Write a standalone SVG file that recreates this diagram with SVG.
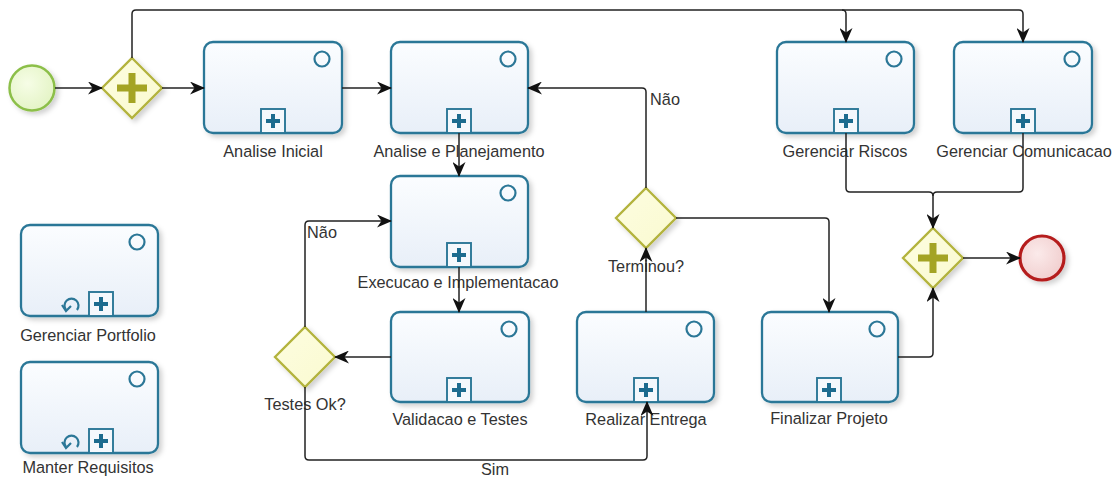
<svg xmlns="http://www.w3.org/2000/svg" width="1117" height="479" viewBox="0 0 1117 479">
<defs>
<linearGradient id="gTask" x1="0" y1="0" x2="0" y2="1"><stop offset="0" stop-color="#fbfdff"/><stop offset="1" stop-color="#e8eff8"/></linearGradient>
<linearGradient id="gGw" x1="0" y1="0" x2="1" y2="1"><stop offset="0" stop-color="#fdfde0"/><stop offset="1" stop-color="#fafad0"/></linearGradient>
<radialGradient id="gStart" cx="0.4" cy="0.4" r="0.7"><stop offset="0" stop-color="#f6fde6"/><stop offset="1" stop-color="#e2f3c2"/></radialGradient>
<radialGradient id="gEnd" cx="0.4" cy="0.4" r="0.7"><stop offset="0" stop-color="#fbeaea"/><stop offset="1" stop-color="#f0cccc"/></radialGradient>
<filter id="sh" x="-20%" y="-20%" width="150%" height="150%"><feDropShadow dx="3" dy="3" stdDeviation="2.5" flood-color="#000" flood-opacity="0.18"/></filter>
<marker id="arr" viewBox="0 0 15 13" refX="14" refY="6.5" markerWidth="15" markerHeight="13" markerUnits="userSpaceOnUse" orient="auto"><path d="M0,0 L15,6.5 L0,13 L4.5,6.5 Z" fill="#111"/></marker>
</defs>
<style>
.task{fill:url(#gTask);stroke:#2b7797;stroke-width:2.3;filter:url(#sh)}
.ev{fill:none;stroke:#2b7797;stroke-width:2.2}
.mk{fill:#f4f8fc;stroke:#2b7797;stroke-width:1.9}
.pl{stroke:#1c6b8e;stroke-width:4;fill:none}
.lp{fill:none;stroke:#2b7797;stroke-width:2.2}
.gw{fill:url(#gGw);stroke:#b3b33c;stroke-width:2.3;filter:url(#sh)}
.gp{stroke:#a4a424;stroke-width:7;fill:none}
.lbl{font-family:"Liberation Sans",Arial,sans-serif;font-size:16.3px;fill:#333;text-anchor:middle}
.cn{fill:none;stroke:#222;stroke-width:1.5;stroke-linejoin:round}
</style>

<g id="start">
<circle cx="32" cy="88" r="22.5" fill="url(#gStart)" stroke="#8cbf48" stroke-width="2.5" filter="url(#sh)"/>
</g>

<g id="gw1">
<path class="gw" d="M132,58 L162,88 L132,118 L102,88 Z"/>
<path class="gp" d="M117,88 H147 M132,73 V103"/>
</g>

<g id="analise-inicial">
<rect class="task" x="204" y="42" width="138" height="91" rx="9"/>
<circle class="ev" cx="322" cy="59" r="7.5"/>
<rect class="mk" x="261" y="109" width="24" height="24"/>
<path class="pl" d="M266,121 H280 M273,114 V128"/>
<text class="lbl" x="273" y="157">Analise Inicial</text>
</g>

<g id="analise-planejamento">
<rect class="task" x="391" y="42" width="137" height="91" rx="9"/>
<circle class="ev" cx="508" cy="59" r="7.5"/>
<rect class="mk" x="447" y="109" width="24" height="24"/>
<path class="pl" d="M452,121 H466 M459,114 V128"/>
<text class="lbl" x="459" y="157">Analise e Planejamento</text>
</g>

<g id="execucao">
<rect class="task" x="391" y="176" width="137" height="91" rx="9"/>
<circle class="ev" cx="508" cy="193" r="7.5"/>
<rect class="mk" x="447" y="243" width="24" height="24"/>
<path class="pl" d="M452,255 H466 M459,248 V262"/>
<text class="lbl" x="458" y="288">Execucao e Implementacao</text>
</g>

<g id="validacao">
<rect class="task" x="391" y="312" width="138" height="90" rx="9"/>
<circle class="ev" cx="509" cy="329" r="7.5"/>
<rect class="mk" x="447" y="378" width="24" height="24"/>
<path class="pl" d="M452,390 H466 M459,383 V397"/>
<text class="lbl" x="460" y="425">Validacao e Testes</text>
</g>

<g id="realizar-entrega">
<rect class="task" x="577" y="312" width="137" height="90" rx="9"/>
<circle class="ev" cx="694" cy="329" r="7.5"/>
<rect class="mk" x="634" y="378" width="24" height="24"/>
<path class="pl" d="M639,390 H653 M646,383 V397"/>
<text class="lbl" x="646" y="425">Realizar Entrega</text>
</g>

<g id="finalizar-projeto">
<rect class="task" x="762" y="312" width="136" height="90" rx="9"/>
<circle class="ev" cx="877" cy="329" r="7.5"/>
<rect class="mk" x="817" y="378" width="24" height="24"/>
<path class="pl" d="M822,390 H836 M829,383 V397"/>
<text class="lbl" x="829" y="424">Finalizar Projeto</text>
</g>

<g id="gerenciar-riscos">
<rect class="task" x="777" y="42" width="137" height="91" rx="9"/>
<circle class="ev" cx="894" cy="59" r="7.5"/>
<rect class="mk" x="834" y="109" width="24" height="24"/>
<path class="pl" d="M839,121 H853 M846,114 V128"/>
<text class="lbl" x="845" y="157">Gerenciar Riscos</text>
</g>

<g id="gerenciar-comunicacao">
<rect class="task" x="954" y="42" width="138" height="91" rx="9"/>
<circle class="ev" cx="1072" cy="59" r="7.5"/>
<rect class="mk" x="1011" y="109" width="24" height="24"/>
<path class="pl" d="M1016,121 H1030 M1023,114 V128"/>
<text class="lbl" x="1024" y="157">Gerenciar Comunicacao</text>
</g>

<g id="gerenciar-portfolio">
<rect class="task" x="21" y="225" width="137" height="91" rx="9"/>
<circle class="ev" cx="137" cy="242" r="7.5"/>
<rect class="mk" x="89" y="292" width="24" height="24"/>
<path class="pl" d="M94,304 H108 M101,297 V311"/>
<path class="lp" d="M66,310 A7,7 0 1 1 77,310"/>
<path class="lp" d="M62,305 L66,311 L71,306"/>
<text class="lbl" x="88" y="341">Gerenciar Portfolio</text>
</g>

<g id="manter-requisitos">
<rect class="task" x="21" y="362" width="137" height="91" rx="9"/>
<circle class="ev" cx="137" cy="379" r="7.5"/>
<rect class="mk" x="89" y="429" width="24" height="24"/>
<path class="pl" d="M94,441 H108 M101,434 V448"/>
<path class="lp" d="M66,447 A7,7 0 1 1 77,447"/>
<path class="lp" d="M62,442 L66,448 L71,443"/>
<text class="lbl" x="88" y="473">Manter Requisitos</text>
</g>

<g id="gw-testes">
<path class="gw" d="M305,327 L335,357 L305,387 L275,357 Z"/>
<text class="lbl" x="305" y="410">Testes Ok?</text>
</g>

<g id="gw-terminou">
<path class="gw" d="M646,188 L676,218 L646,248 L616,218 Z"/>
<text class="lbl" x="646" y="272">Terminou?</text>
</g>

<g id="gw2">
<path class="gw" d="M933,228 L963,258 L933,288 L903,258 Z"/>
<path class="gp" d="M918,258 H948 M933,243 V273"/>
</g>

<g id="end">
<circle cx="1042" cy="258" r="22" fill="url(#gEnd)" stroke="#b51d1d" stroke-width="3.2" filter="url(#sh)"/>
</g>

<g id="connectors">
<path class="cn" d="M55,88 H102" marker-end="url(#arr)"/>
<path class="cn" d="M162,88 H204" marker-end="url(#arr)"/>
<path class="cn" d="M132,58 V14 Q132,10 136,10 H842 Q846,10 846,14 V42" marker-end="url(#arr)"/>
<path class="cn" d="M842,10 H1019 Q1023,10 1023,14 V42" marker-end="url(#arr)"/>
<path class="cn" d="M342,88 H391" marker-end="url(#arr)"/>
<path class="cn" d="M459,133 V176" marker-end="url(#arr)"/>
<path class="cn" d="M459,267 V312" marker-end="url(#arr)"/>
<path class="cn" d="M391,357 H335" marker-end="url(#arr)"/>
<path class="cn" d="M305,327 V225 Q305,221 309,221 H391" marker-end="url(#arr)"/>
<path class="cn" d="M305,387 V456 Q305,460 309,460 H643 Q647,460 647,456 V402" marker-end="url(#arr)"/>
<path class="cn" d="M646,312 V248" marker-end="url(#arr)"/>
<path class="cn" d="M646,188 V92 Q646,88 642,88 H528" marker-end="url(#arr)"/>
<path class="cn" d="M676,218 H825 Q829,218 829,222 V312" marker-end="url(#arr)"/>
<path class="cn" d="M898,357 H929 Q933,357 933,353 V288" marker-end="url(#arr)"/>
<path class="cn" d="M846,133 V188 Q846,192 850,192 H929 Q933,192 933,196 V228" marker-end="url(#arr)"/>
<path class="cn" d="M1023,133 V188 Q1023,192 1019,192 H937 Q933,192 933,196"/>
<path class="cn" d="M963,258 H1020" marker-end="url(#arr)"/>
<text class="lbl" x="665" y="105">Não</text>
<text class="lbl" x="322" y="238">Não</text>
<text class="lbl" x="495" y="475">Sim</text>
</g>
</svg>
